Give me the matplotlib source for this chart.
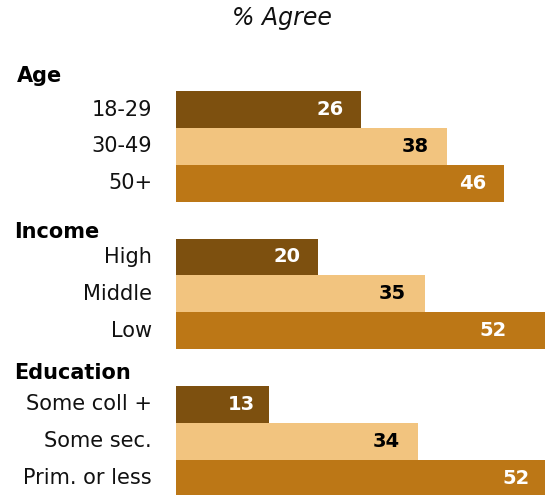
import matplotlib
matplotlib.use("Agg")
import matplotlib.pyplot as plt
from matplotlib.transforms import blended_transform_factory

# survey breakdown, % agree
groups = ["Age", "Income", "Education"]
labels = [["18-29", "30-49", "50+"],
          ["High", "Middle", "Low"],
          ["Some coll +", "Some sec.", "Prim. or less"]]
values = [[26, 38, 46],
          [20, 35, 52],
          [13, 34, 52]]

colors = ["#7D500F", "#F2C47F", "#BC7716"]
text_colors = ["white", "black", "white"]

W, H = 545, 495
row_px = 36.85          # height of one row slot
top_px = 54.3           # where slot 0 starts
bar_left = 176
px_per_unit = 7.12
head_gap = [9, 1, 7]    # header baseline above its slot bottom
head_x = [17, 14, 14]
# distance (px) from bar end to the right edge of the value label
label_pad = [[17, 18, 17],
             [18, 19, 40],
             [14, 18, 17]]

fig = plt.figure(figsize=(W / 100, H / 100), dpi=100)
ax = fig.add_axes([bar_left / W, 0, (W - bar_left) / W, 1])
ax.set_xlim(0, (W - bar_left) / px_per_unit)
ax.set_ylim((H - top_px) / row_px, -top_px / row_px)
ax.axis("off")

fig_x = blended_transform_factory(fig.transFigure, ax.transData)

for g, name in enumerate(groups):
    head = 4 * g
    ax.text(head_x[g] / W, head + 1 - head_gap[g] / row_px, name,
            transform=fig_x, ha="left", va="baseline", fontsize=15,
            fontweight="bold", color="black", clip_on=False)
    for r, (lab, v) in enumerate(zip(labels[g], values[g])):
        y = head + 1 + r + 0.5
        ax.barh(y, v, height=1.0, color=colors[r], linewidth=0)
        ax.text(152 / W, y, lab, transform=fig_x, ha="right", va="center",
                fontsize=15, color="#111111", clip_on=False)
        ax.annotate(str(v), xy=(v, y), xytext=(-label_pad[g][r], 0),
                    textcoords="offset pixels", ha="right", va="center",
                    fontsize=14, fontweight="bold", color=text_colors[r],
                    annotation_clip=False)

fig.text(282 / W, 1 - 18 / H, "% Agree", ha="center", va="center",
         fontsize=17, style="italic", color="#111111")

fig.savefig("out.png", dpi=100)
